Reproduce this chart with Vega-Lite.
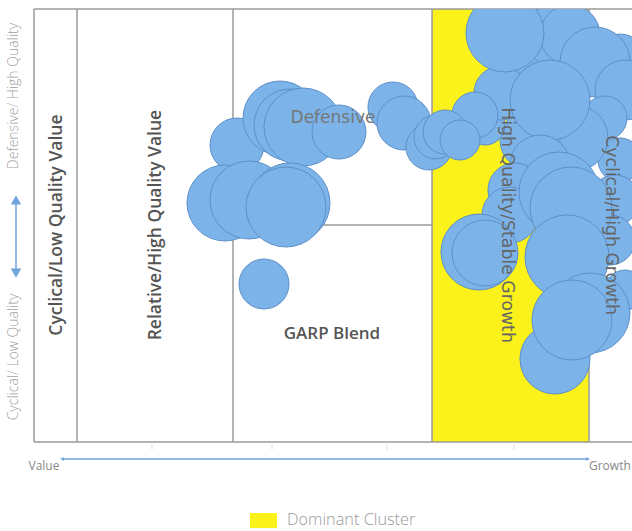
{
  "$schema": "https://vega.github.io/schema/vega-lite/v6.json",
  "width": 598,
  "height": 433,
  "autosize": "none",
  "padding": {"left": 34, "top": 9, "right": 0, "bottom": 89},
  "background": "white",
  "config": {"view": {"stroke": null}},
  "datasets": {
    "zones": [{"x": 66.56, "x2": 92.81, "y": 0, "y2": 100}],
    "legendbox": [{"x": 36.12, "x2": 40.64, "y": -16.4, "y2": -19.86}],
    "frame": [
      {"x": 0, "x2": 0, "y": 0, "y2": 100},
      {"x": 0, "x2": 100, "y": 100, "y2": 100},
      {"x": 0, "x2": 100, "y": 0, "y2": 0},
      {"x": 7.19, "x2": 7.19, "y": 0, "y2": 100},
      {"x": 33.28, "x2": 33.28, "y": 0, "y2": 100},
      {"x": 66.56, "x2": 66.56, "y": 0, "y2": 100},
      {"x": 92.81, "x2": 92.81, "y": 0, "y2": 100},
      {"x": 33.28, "x2": 66.56, "y": 50.1, "y2": 50.1}
    ],
    "ticks": [
      {"x": 19.73, "x2": 19.73, "y": 0, "y2": -1.85},
      {"x": 39.8, "x2": 39.8, "y": 0, "y2": -1.85},
      {"x": 59.03, "x2": 59.03, "y": 0, "y2": -1.85},
      {"x": 80.27, "x2": 80.27, "y": 0, "y2": -1.85}
    ],
    "arrows": [
      {"x": 4.68, "x2": 92.64, "y": -3.93, "y2": -3.93},
      {"x": -3.01, "x2": -3.01, "y": 55.2, "y2": 39.72}
    ],
    "heads": [
      {"x": 4.68, "y": -3.93, "dir": "triangle-left", "kind": "small"},
      {"x": 92.64, "y": -3.93, "dir": "triangle-right", "kind": "small"},
      {"x": -3.01, "y": 55.9, "dir": "triangle-up", "kind": "big"},
      {"x": -3.01, "y": 39.0, "dir": "triangle-down", "kind": "big"}
    ],
    "bubbles": [
      {"x": 33.95, "y": 68.59, "r": 27},
      {"x": 41.14, "y": 74.83, "r": 37},
      {"x": 42.81, "y": 73.21, "r": 36},
      {"x": 44.98, "y": 72.75, "r": 39},
      {"x": 51.0, "y": 71.59, "r": 27},
      {"x": 31.94, "y": 55.2, "r": 38},
      {"x": 35.95, "y": 55.89, "r": 39},
      {"x": 42.81, "y": 55.2, "r": 40},
      {"x": 42.14, "y": 54.27, "r": 40},
      {"x": 38.46, "y": 36.49, "r": 25},
      {"x": 60.03, "y": 77.37, "r": 25},
      {"x": 61.87, "y": 73.67, "r": 27},
      {"x": 66.05, "y": 68.13, "r": 23},
      {"x": 67.22, "y": 70.44, "r": 22},
      {"x": 80.77, "y": 92.15, "r": 35},
      {"x": 86.79, "y": 94.0, "r": 30},
      {"x": 89.63, "y": 94.0, "r": 30},
      {"x": 98.0, "y": 88.21, "r": 26},
      {"x": 93.81, "y": 87.76, "r": 35},
      {"x": 98.83, "y": 81.29, "r": 30},
      {"x": 95.48, "y": 74.83, "r": 22},
      {"x": 97.99, "y": 65.13, "r": 22},
      {"x": 90.47, "y": 70.21, "r": 33},
      {"x": 82.94, "y": 69.75, "r": 30},
      {"x": 75.42, "y": 73.21, "r": 20},
      {"x": 78.09, "y": 80.6, "r": 27},
      {"x": 73.74, "y": 75.52, "r": 23},
      {"x": 68.73, "y": 71.59, "r": 22},
      {"x": 71.24, "y": 69.75, "r": 20},
      {"x": 78.76, "y": 94.46, "r": 39},
      {"x": 86.29, "y": 78.98, "r": 40},
      {"x": 84.61, "y": 63.97, "r": 30},
      {"x": 80.43, "y": 58.2, "r": 27},
      {"x": 79.6, "y": 52.43, "r": 28},
      {"x": 97.15, "y": 55.89, "r": 25},
      {"x": 96.32, "y": 46.65, "r": 25},
      {"x": 87.79, "y": 57.74, "r": 40},
      {"x": 89.8, "y": 54.04, "r": 41},
      {"x": 74.41, "y": 43.88, "r": 38},
      {"x": 75.42, "y": 43.65, "r": 33},
      {"x": 98.83, "y": 35.1, "r": 20},
      {"x": 89.13, "y": 42.73, "r": 42},
      {"x": 87.12, "y": 19.17, "r": 35},
      {"x": 92.97, "y": 29.79, "r": 40},
      {"x": 89.96, "y": 28.18, "r": 40}
    ],
    "boldV": [
      {"x": 3.85, "y": 50.1, "label": "Cyclical/Low Quality Value"},
      {"x": 20.4, "y": 50.1, "label": "Relative/High Quality Value"}
    ],
    "garp": [{"x": 49.83, "y": 24.94, "label": "GARP Blend"}],
    "def": [{"x": 50.0, "y": 74.83, "label": "Defensive"}],
    "growthV": [
      {"x": 79.1, "y": 50.1, "label": "High Quality/Stable Growth"},
      {"x": 96.49, "y": 50.1, "label": "Cyclical/High Growth"}
    ],
    "sideV": [
      {"x": -3.34, "y": 79.9, "label": "Defensive/ High Quality"},
      {"x": -3.34, "y": 19.63, "label": "Cyclical/ Low Quality"}
    ],
    "bottomLabels": [
      {"x": 1.67, "y": -5.54, "label": "Value"},
      {"x": 96.3, "y": -5.54, "label": "Growth"}
    ],
    "legendText": [{"x": 42.31, "y": -18.01, "label": "Dominant Cluster"}]
  },
  "encoding": {
    "x": {"type": "quantitative", "scale": {"domain": [0, 100], "nice": false, "zero": false}, "axis": null},
    "y": {"type": "quantitative", "scale": {"domain": [0, 100], "nice": false, "zero": false}, "axis": null}
  },
  "layer": [
    {
      "data": {"name": "zones"},
      "mark": {"type": "rect", "color": "#fbf11b"},
      "encoding": {"x": {"field": "x"}, "x2": {"field": "x2"}, "y": {"field": "y"}, "y2": {"field": "y2"}}
    },
    {
      "data": {"name": "legendbox"},
      "mark": {"type": "rect", "color": "#fbf11b"},
      "encoding": {"x": {"field": "x"}, "x2": {"field": "x2"}, "y": {"field": "y"}, "y2": {"field": "y2"}}
    },
    {
      "data": {"name": "frame"},
      "mark": {"type": "rule", "color": "#9a9a9a", "strokeWidth": 1.5},
      "encoding": {"x": {"field": "x"}, "x2": {"field": "x2"}, "y": {"field": "y"}, "y2": {"field": "y2"}}
    },
    {
      "data": {"name": "ticks"},
      "mark": {"type": "rule", "color": "#e2e2e2", "strokeWidth": 1},
      "encoding": {"x": {"field": "x"}, "x2": {"field": "x2"}, "y": {"field": "y"}, "y2": {"field": "y2"}}
    },
    {
      "data": {"name": "arrows"},
      "mark": {"type": "rule", "color": "#6fa3dc", "strokeWidth": 1.5},
      "encoding": {"x": {"field": "x"}, "x2": {"field": "x2"}, "y": {"field": "y"}, "y2": {"field": "y2"}}
    },
    {
      "data": {"name": "heads"},
      "mark": {"type": "point", "filled": true, "color": "#6fa3dc", "opacity": 1},
      "encoding": {
        "x": {"field": "x"}, "y": {"field": "y"},
        "shape": {"field": "dir", "type": "nominal", "scale": {"domain": ["triangle-left", "triangle-right", "triangle-up", "triangle-down"], "range": ["triangle-left", "triangle-right", "triangle-up", "triangle-down"]}, "legend": null},
        "size": {"field": "kind", "type": "nominal", "scale": {"domain": ["small", "big"], "range": [16, 110]}, "legend": null}
      }
    },
    {
      "data": {"name": "bubbles"},
      "mark": {"type": "circle", "clip": true, "fill": "#7cb4ea", "stroke": "#5d8fc9", "strokeWidth": 1, "opacity": 1, "fillOpacity": 1},
      "encoding": {
        "x": {"field": "x"}, "y": {"field": "y"},
        "size": {"field": "r", "type": "quantitative", "scale": {"type": "pow", "exponent": 2, "domain": [0, 40], "range": [0, 6400]}, "legend": null}
      }
    },
    {
      "data": {"name": "boldV"},
      "mark": {"type": "text", "angle": 270, "font": "Open Sans", "fontWeight": 600, "fontSize": 17.5, "color": "#555555", "align": "center", "baseline": "middle"},
      "encoding": {"x": {"field": "x"}, "y": {"field": "y"}, "text": {"field": "label"}}
    },
    {
      "data": {"name": "garp"},
      "mark": {"type": "text", "font": "Open Sans", "fontWeight": 600, "fontSize": 17, "color": "#555555", "align": "center", "baseline": "middle"},
      "encoding": {"x": {"field": "x"}, "y": {"field": "y"}, "text": {"field": "label"}}
    },
    {
      "data": {"name": "def"},
      "mark": {"type": "text", "font": "DejaVu Sans", "fontSize": 17, "color": "#777777", "align": "center", "baseline": "middle"},
      "encoding": {"x": {"field": "x"}, "y": {"field": "y"}, "text": {"field": "label"}}
    },
    {
      "data": {"name": "growthV"},
      "mark": {"type": "text", "angle": 90, "font": "DejaVu Sans", "fontSize": 17.3, "color": "#666666", "align": "center", "baseline": "middle"},
      "encoding": {"x": {"field": "x"}, "y": {"field": "y"}, "text": {"field": "label"}}
    },
    {
      "data": {"name": "sideV"},
      "mark": {"type": "text", "angle": 270, "font": "Open Sans", "fontWeight": 300, "fontSize": 14, "color": "#a0a0a0", "align": "center", "baseline": "middle"},
      "encoding": {"x": {"field": "x"}, "y": {"field": "y"}, "text": {"field": "label"}}
    },
    {
      "data": {"name": "bottomLabels"},
      "mark": {"type": "text", "font": "Open Sans", "fontSize": 12, "color": "#888888", "align": "center", "baseline": "middle"},
      "encoding": {"x": {"field": "x"}, "y": {"field": "y"}, "text": {"field": "label"}}
    },
    {
      "data": {"name": "legendText"},
      "mark": {"type": "text", "font": "Open Sans", "fontWeight": 300, "fontSize": 16.3, "color": "#999999", "align": "left", "baseline": "middle"},
      "encoding": {"x": {"field": "x"}, "y": {"field": "y"}, "text": {"field": "label"}}
    }
  ]
}
